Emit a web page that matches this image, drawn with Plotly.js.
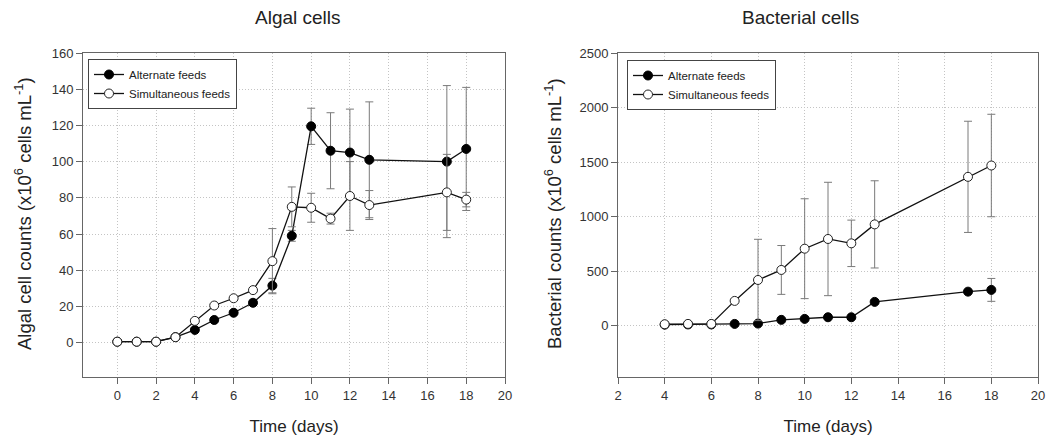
<!DOCTYPE html>
<html>
<head>
<meta charset="utf-8">
<script src="https://cdn.plot.ly/plotly-3.0.1.min.js"></script>
<style>html,body{margin:0;padding:0;background:#fff;}#chart{width:1064px;height:441px;}</style>
</head>
<body>
<div id="chart"></div>
<script>
// Algal cells (x10^6 cells mL^-1)
var algalAltDays = [0,1,2,3,4,5,6,7,8,9,10,11,12,13,17,18];
var algalAltVals = [0.5,0.5,0.5,3,7,12.5,16.5,22,31.5,59,119.5,106,105,101,100,107];
var algalAltErr  = [0,0,0,0,1,1,1,1.5,4,3,10,21,24,32,42,34];
var algalSimDays = [0,1,2,3,4,5,6,7,8,9,10,11,12,13,17,18];
var algalSimVals = [0.5,0.5,0.5,3,12,20.5,24.5,29,45,75,74.5,68.5,81,76,83,79];
var algalSimErr  = [0,0,0,0,1,1,1,1,18,11,8,3,19,8,21,4];
// Bacterial counts (x10^6 cells mL^-1)
var bactAltDays = [4,5,6,7,8,9,10,11,12,13,17,18];
var bactAltVals = [8,10,10,15,18,52,61,76,76,217,311,327];
var bactAltErr  = [0,0,0,5,5,8,8,10,10,15,20,105];
var bactSimDays = [4,5,6,7,8,9,10,11,12,13,17,18];
var bactSimVals = [12,15,15,226,418,510,705,794,754,928,1364,1468];
var bactSimErr  = [0,0,0,10,373,224,458,520,213,400,510,470];
var seriesNames = ['Alternate feeds','Simultaneous feeds'];

var FONT = 'Liberation Sans, Arial, sans-serif';
var errStyle = function(arr){return {type:'data',array:arr,visible:true,color:'#7a7a7a',thickness:1,width:4};};
var altMarker = {symbol:'circle',size:9,color:'#000',line:{color:'#000',width:1}};
var simMarker = {symbol:'circle',size:9,color:'#fff',line:{color:'#222',width:1}};
var lineStyle = {color:'#111',width:1.3};

var traces = [
  {x:algalAltDays,y:algalAltVals,error_y:errStyle(algalAltErr),mode:'lines+markers',name:seriesNames[0],marker:altMarker,line:lineStyle,xaxis:'x',yaxis:'y',legend:'legend'},
  {x:algalSimDays,y:algalSimVals,error_y:errStyle(algalSimErr),mode:'lines+markers',name:seriesNames[1],marker:simMarker,line:lineStyle,xaxis:'x',yaxis:'y',legend:'legend'},
  {x:bactAltDays,y:bactAltVals,error_y:errStyle(bactAltErr),mode:'lines+markers',name:seriesNames[0],marker:altMarker,line:lineStyle,xaxis:'x2',yaxis:'y2',legend:'legend2'},
  {x:bactSimDays,y:bactSimVals,error_y:errStyle(bactSimErr),mode:'lines+markers',name:seriesNames[1],marker:simMarker,line:lineStyle,xaxis:'x2',yaxis:'y2',legend:'legend2'}
];

var W = 1064, T = 53, B = 64, H = 441, PH = H - T - B;
function px(x){return x / W;}
function py(y){return (H - B - y) / PH;}

var axisCommon = {
  showline:true, mirror:true, linecolor:'#666', linewidth:1,
  ticks:'outside', ticklen:6, tickcolor:'#666',
  showgrid:true, gridcolor:'#c4c4c4', griddash:'1px,2px', gridwidth:1,
  zeroline:false,
  tickfont:{family:FONT, size:13, color:'#333'}
};
var xTitleFont = {family:FONT, size:17, color:'#222'};
var yTitleFont = {family:FONT, size:18.5, color:'#222'};

var layout = {
  width:W, height:H,
  margin:{l:0,r:0,t:T,b:B},
  paper_bgcolor:'#fff', plot_bgcolor:'#fff',
  showlegend:true,
  font:{family:FONT, color:'#222'},
  xaxis:Object.assign({}, axisCommon, {domain:[px(83),px(505)], range:[-1.77,20], tickvals:[0,2,4,6,8,10,12,14,16,18,20], anchor:'y',
    title:{text:'Time (days)', font:xTitleFont, standoff:18}}),
  yaxis:Object.assign({}, axisCommon, {range:[-19,160], tickvals:[0,20,40,60,80,100,120,140,160], anchor:'x'}),
  xaxis2:Object.assign({}, axisCommon, {domain:[px(618),px(1038)], range:[2,20], tickvals:[2,4,6,8,10,12,14,16,18,20], anchor:'y2',
    title:{text:'Time (days)', font:xTitleFont, standoff:18}}),
  yaxis2:Object.assign({}, axisCommon, {range:[-472,2500], tickvals:[0,500,1000,1500,2000,2500], anchor:'x2'}),
  legend:{x:px(88), y:py(59), xanchor:'left', yanchor:'top', bgcolor:'#fff', bordercolor:'#444', borderwidth:1,
    font:{size:11.5, family:FONT, color:'#222'}, tracegroupgap:0, itemwidth:30},
  legend2:{x:px(627), y:py(60), xanchor:'left', yanchor:'top', bgcolor:'#fff', bordercolor:'#444', borderwidth:1,
    font:{size:11.5, family:FONT, color:'#222'}, tracegroupgap:0, itemwidth:30},
  annotations:[
    {text:'Algal cells', xref:'paper', yref:'paper', x:px(298), y:py(18), showarrow:false, font:{size:19, color:'#222', family:FONT}, xanchor:'center', yanchor:'middle'},
    {text:'Bacterial cells', xref:'paper', yref:'paper', x:px(800), y:py(18), showarrow:false, font:{size:19, color:'#222', family:FONT}, xanchor:'center', yanchor:'middle'},
    {text:'Algal cell counts (x10<sup>6</sup> cells mL<sup>-1</sup>)', xref:'paper', yref:'paper', x:px(23), y:py(214), textangle:-90, showarrow:false, font:yTitleFont, xanchor:'center', yanchor:'middle'},
    {text:'Bacterial counts (x10<sup>6</sup> cells mL<sup>-1</sup>)', xref:'paper', yref:'paper', x:px(553), y:py(214), textangle:-90, showarrow:false, font:yTitleFont, xanchor:'center', yanchor:'middle'}
  ]
};

Plotly.newPlot('chart', traces, layout, {displayModeBar:false, staticPlot:true});
</script>
</body>
</html>
